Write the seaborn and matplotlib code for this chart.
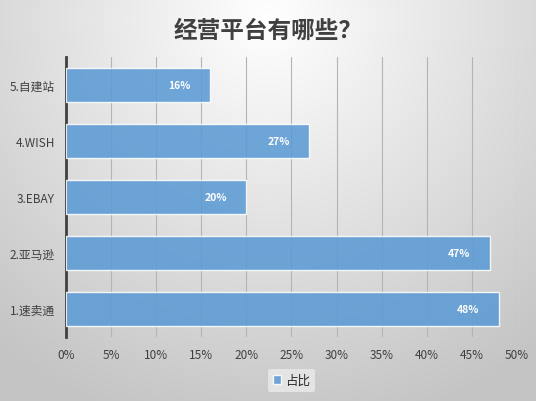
import numpy as np
import pandas as pd
import matplotlib
matplotlib.use("Agg")
import matplotlib.pyplot as plt
import seaborn as sns
from matplotlib.ticker import PercentFormatter

# 数据
platforms = ["5.自建站", "4.WISH", "3.EBAY", "2.亚马逊", "1.速卖通"]
shares = [16, 27, 20, 47, 48]
series_name = "占比"
x_ticks = [0, 5, 10, 15, 20, 25, 30, 35, 40, 45, 50]

df = pd.DataFrame({"platform": platforms, "share": shares, "series": series_name})

sns.set_theme(style="white")
plt.rcParams['font.family'] = ['Noto Sans CJK SC', 'DejaVu Sans']

fig = plt.figure(figsize=(5.36, 4.02), dpi=100)

# 背景 : 径向渐变
bg = fig.add_axes([0, 0, 1, 1], zorder=-1)
yy, xx = np.mgrid[0:402, 0:536]
r = np.sqrt(((xx - 268) / 420.0) ** 2 + ((yy - 20) / 420.0) ** 2)
r = np.clip(r, 0, 1)
gray = 1.0 - 0.23 * r
bg.imshow(np.dstack([gray, gray, gray]), aspect="auto", extent=[0, 1, 0, 1])
bg.set_axis_off()

ax = fig.add_axes([0.123, 0.159, 0.8414, 0.6965])
ax.set_facecolor("none")
sns.barplot(data=df, y="platform", x="share", hue="series", orient="h",
            palette=["#5b9bd5"], saturation=1, width=0.6, alpha=0.88,
            edgecolor="white", linewidth=1, ax=ax, zorder=3)

for c in ax.containers:
    ax.bar_label(c, labels=[f"{v}%" for v in shares], padding=-30,
                 color="white", fontsize=7.5, fontweight="bold")

ax.set_xlim(0, 50)
ax.set_xticks(x_ticks)
ax.xaxis.set_major_formatter(PercentFormatter(decimals=0))
ax.grid(axis="x", color="#b4b4b4", linewidth=0.8, zorder=0)
ax.set_axisbelow(True)
for s in ["top", "right", "bottom"]:
    ax.spines[s].set_visible(False)
ax.spines["left"].set_color("#404040")
ax.spines["left"].set_linewidth(2)
ax.tick_params(axis="both", length=0, labelsize=8.5, labelcolor="#404040", pad=8)
ax.set_xlabel("")
ax.set_ylabel("")

ax.legend(loc="upper center", bbox_to_anchor=(0.5, -0.09), frameon=True,
          facecolor="#ebebeb", edgecolor="none", fontsize=9,
          handlelength=0.7, handleheight=0.7, handletextpad=0.3,
          borderpad=0.4, framealpha=0.8)

fig.text(0.5, 0.923, "经营平台有哪些？", ha="center", va="center",
         fontsize=17, fontweight="bold", color="#404040")

fig.savefig("out.png", dpi=100)
